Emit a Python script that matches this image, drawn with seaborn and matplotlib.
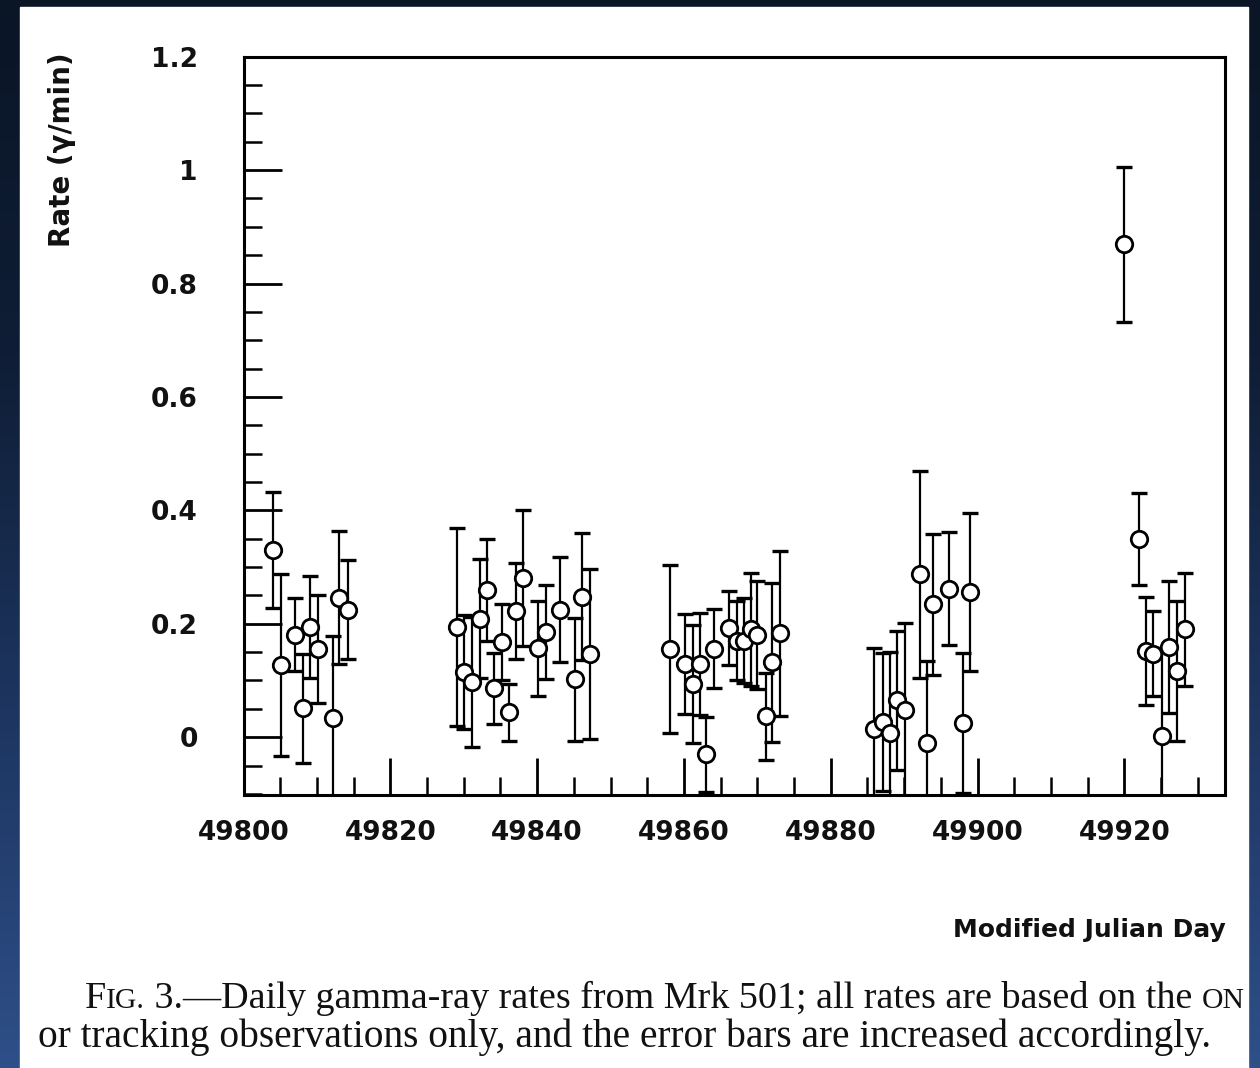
import numpy as np
import pandas as pd
import matplotlib
matplotlib.use("Agg")
import matplotlib.pyplot as plt
import seaborn as sns
from matplotlib.ticker import MultipleLocator, FuncFormatter
from matplotlib.patches import Rectangle
from matplotlib.colors import LinearSegmentedColormap

# ---------------- data ----------------
mjd = [49804.06, 49805.07, 49807.02, 49808.07, 49809.06, 49810.19, 49812.15, 49813.05, 49814.2,
       49829.05, 49830.04, 49831.17, 49832.22, 49833.13, 49834.13, 49835.18, 49836.21, 49837.13,
       49838.12, 49840.16, 49841.21, 49843.12, 49845.16, 49846.08, 49847.21,
       49858.11, 49860.15, 49861.2, 49862.19, 49863.01, 49864.1, 49866.14, 49867.23, 49868.19,
       49869.14, 49869.96, 49871.19, 49872.04, 49873.09,
       49885.9, 49887.08, 49888.08, 49889.07, 49890.12, 49892.17, 49893.08, 49893.98, 49896.16,
       49897.98, 49898.98,
       49919.96, 49922.04, 49922.96, 49923.95, 49925.09, 49926.13, 49927.14, 49928.27]
rate = [0.330, 0.127, 0.181, 0.051, 0.194, 0.156, 0.033, 0.246, 0.225,
        0.194, 0.115, 0.097, 0.209, 0.260, 0.086, 0.168, 0.044, 0.222,
        0.281, 0.157, 0.186, 0.225, 0.102, 0.248, 0.146,
        0.156, 0.129, 0.093, 0.129, -0.030, 0.156, 0.193, 0.170, 0.170,
        0.190, 0.180, 0.037, 0.132, 0.183,
        0.015, 0.027, 0.007, 0.065, 0.048, 0.287, -0.010, 0.234, 0.262,
        0.025, 0.256,
        0.869, 0.350, 0.152, 0.147, 0.002, 0.159, 0.117, 0.190]
err = [0.103, 0.160, 0.065, 0.096, 0.090, 0.095, 0.146, 0.117, 0.088,
       0.175, 0.100, 0.115, 0.105, 0.090, 0.062, 0.067, 0.050, 0.085,
       0.120, 0.084, 0.083, 0.093, 0.108, 0.112, 0.150,
       0.148, 0.088, 0.104, 0.090, 0.066, 0.070, 0.065, 0.070, 0.075,
       0.100, 0.095, 0.077, 0.140, 0.145,
       0.142, 0.122, 0.143, 0.123, 0.153, 0.183, 0.145, 0.124, 0.100,
       0.123, 0.140,
       0.136, 0.081, 0.096, 0.075, 0.155, 0.117, 0.124, 0.100]

x_ticks_major = [49800, 49820, 49840, 49860, 49880, 49900, 49920]
y_ticks_major = [0, 0.2, 0.4, 0.6, 0.8, 1.0, 1.2]
x_label = "Modified Julian Day"
y_label = "Rate (\u03b3/min)"
cap_line1 = [("F", 1.0), ("IG.", 0.78), (" 3.\u2014Daily gamma-ray rates from Mrk 501; all rates are based on the ", 1.0), ("ON", 0.78)]
cap_line2 = "or tracking observations only, and the error bars are increased accordingly."

df = pd.DataFrame({"mjd": mjd, "rate": rate, "err": err})

# ---------------- figure ----------------
sns.set_theme(style="white")
plt.rcParams["font.family"] = ["DejaVu Sans"]

W, H = 1260, 1068
fig = plt.figure(figsize=(W / 100, H / 100), dpi=100)

# dark blue slide background + white page
bg = fig.add_axes([0, 0, 1, 1], zorder=-10)
grad = np.linspace(0, 1, 256).reshape(-1, 1)
cmap = LinearSegmentedColormap.from_list("bg", ["#0a1526", "#0f1e36", "#1d3560", "#2e4f88"])
bg.imshow(grad, aspect="auto", cmap=cmap, extent=[0, 1, 0, 1], origin="upper")
bg.add_patch(Rectangle((20 / W, 0), (1248 - 20) / W, (H - 7) / H, color="white", zorder=2))
bg.set_xlim(0, 1)
bg.set_ylim(0, 1)
bg.axis("off")

# main axes
left, right, top, bottom = 243.5, 1225, 56.7, 795
ax = fig.add_axes([left / W, 1 - bottom / H, (right - left) / W, (bottom - top) / H])
ax.set_facecolor("white")

ax.errorbar(df["mjd"], df["rate"], yerr=df["err"], fmt="none", ecolor="black",
            elinewidth=1.6, capsize=5.5, capthick=2.4, zorder=2)
sns.scatterplot(data=df, x="mjd", y="rate", ax=ax, marker="o", s=140,
                facecolor="white", edgecolor="black", linewidth=2.0, zorder=3, legend=False)

ax.set_xlim(49800, 49933.7)
ax.set_ylim(-0.102, 1.2)
ax.set_xlabel("")
ax.set_ylabel("")

ax.xaxis.set_major_locator(plt.FixedLocator(x_ticks_major))
ax.xaxis.set_minor_locator(MultipleLocator(5))
ax.yaxis.set_major_locator(plt.FixedLocator(y_ticks_major))
ax.yaxis.set_minor_locator(MultipleLocator(0.05))
ax.yaxis.set_major_formatter(FuncFormatter(lambda v, p: "%g" % round(v, 2)))
ax.xaxis.set_major_formatter(FuncFormatter(lambda v, p: "%d" % v))

for s in ax.spines.values():
    s.set_visible(True)
    s.set_color("black")
    s.set_linewidth(2.2)

ax.tick_params(which="both", direction="in", top=False, right=False, left=True, bottom=True,
               colors="black")
ax.tick_params(which="major", length=27, width=2.0, labelsize=19)
ax.tick_params(which="minor", length=13, width=1.8)
ax.tick_params(axis="y", which="major", pad=33)
ax.tick_params(axis="x", which="major", pad=18)
for lab in ax.get_xticklabels() + ax.get_yticklabels():
    lab.set_fontweight("bold")
    lab.set_color("#111111")

# axis titles
fig.text(62 / W, 1 - 150 / H, y_label, rotation=90, ha="center", va="center", fontsize=20,
         fontweight="bold", color="#111111")
fig.text(1226 / W, 1 - 930 / H, x_label, ha="right", va="center", fontsize=18,
         fontweight="bold", color="#111111")

# caption (serif, with small caps)
renderer = fig.canvas.get_renderer()
serif = ["Liberation Serif", "DejaVu Serif"]
probe = fig.text(38 / W, 1 - 1047 / H, cap_line2, fontsize=24, family=serif, va="baseline",
                 color="#111111")
wpx = probe.get_window_extent(renderer).width
size2 = 24 * (1212 - 38) / wpx
probe.set_fontsize(size2)


def draw_line(size):
    xpix = 85
    objs = []
    for seg, scale in cap_line1:
        t = fig.text(xpix / W, 1 - 1008 / H, seg, fontsize=size * scale, family=serif,
                     va="baseline", color="#111111")
        objs.append(t)
        xpix = t.get_window_extent(renderer).x1
    return objs, xpix


objs, xend = draw_line(size2)
size1 = size2 * (1245 - 85) / (xend - 85)
for o in objs:
    o.remove()
draw_line(size1)

fig.savefig("out.png", dpi=100)
